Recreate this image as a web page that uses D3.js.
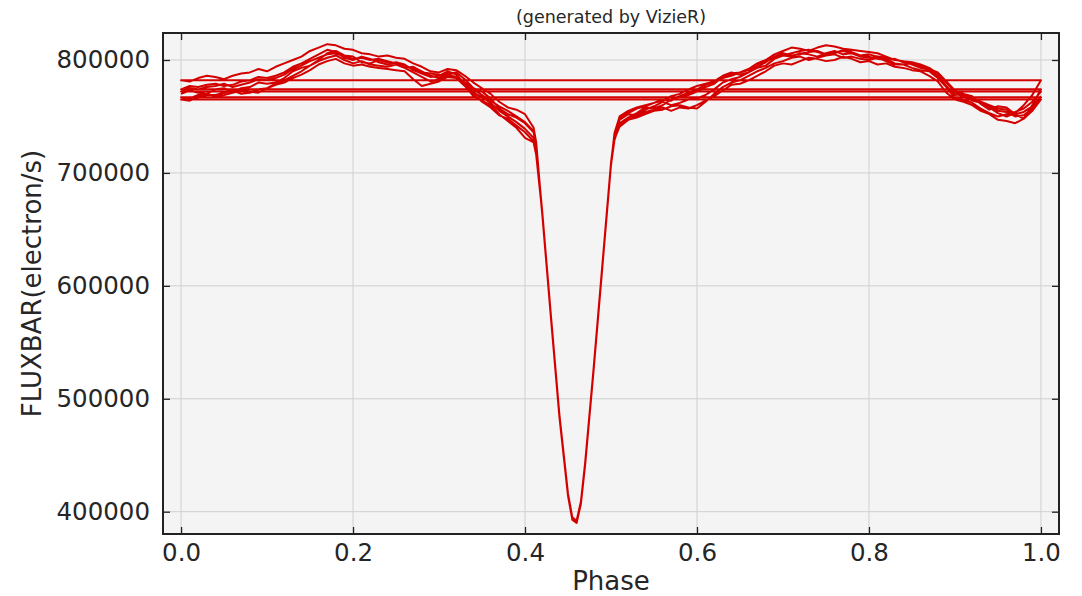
<!DOCTYPE html>
<html>
<head>
<meta charset="utf-8">
<script src="https://cdn.jsdelivr.net/npm/d3@7"></script>
<style>
    body { margin: 0; background: #fff; }
    svg text { font-family: "DejaVu Sans", sans-serif; fill: #262626; }
</style>
</head>
<body>
<svg id="chart" width="1082" height="596"></svg>
<script>
// phase grid shared by every cycle (denser through the eclipse)
const phases = [0, .01, .02, .03, .04, .05, .06, .07, .08, .09, .10, .11, .12, .13, .14, .15, .16, .17, .18, .19,
    .20, .21, .22, .23, .24, .25, .26, .27, .28, .29, .30, .31, .32, .33, .34, .35, .36, .37, .38, .39, .40,
    .41, .413, .42, .43, .44, .45, .455, .46, .465, .47, .48, .49, .50, .504, .51,
    .52, .53, .54, .55, .56, .57, .58, .59, .60, .61, .62, .63, .64, .65, .66, .67, .68, .69, .70, .71, .72, .73, .74, .75,
    .76, .77, .78, .79, .80, .81, .82, .83, .84, .85, .86, .87, .88, .89, .90, .91, .92, .93, .94, .95, .96, .97, .98, .99, 1.00];

// FLUXBAR in thousands of electron/s, one array per cycle, in time order
const cycle1 = [770, 773, 771, 770, 774, 775, 772, 775, 776, 780, 779, 780, 784, 790, 793, 795, 800, 806, 808, 804,
    803, 798, 797, 800, 798, 797, 793, 794, 790, 786, 784, 788, 789, 783, 775, 772, 766, 757, 752, 749, 744,
    736, 724, 666, 575, 485, 416, 394, 391, 408, 444, 528, 619, 709, 734, 747,
    752, 751, 756, 759, 763, 760, 762, 765, 766, 769, 774, 780, 783, 785, 789, 793, 795, 801, 804, 803, 806, 805, 803, 806,
    808, 805, 806, 803, 802, 803, 801, 797, 796, 797, 795, 790, 784, 776, 770, 768, 764, 762, 758, 753, 750, 753, 760, 769, 782];
const cycle2 = [782, 781, 784, 786, 785, 783, 786, 788, 789, 792, 790, 794, 797, 800, 803, 808, 811, 814, 813, 810,
    809, 806, 805, 803, 804, 802, 801, 797, 794, 790, 789, 792, 791, 786, 780, 775, 770, 763, 758, 756, 752,
    740, 727, 664, 573, 484, 414, 393, 390, 407, 442, 527, 617, 707, 729, 743,
    749, 753, 758, 757, 760, 765, 768, 769, 772, 776, 779, 785, 788, 789, 792, 797, 800, 805, 808, 811, 810, 808, 811, 813,
    812, 810, 809, 808, 807, 806, 803, 800, 799, 796, 793, 792, 789, 781, 773, 770, 767, 763, 760, 757, 756, 752, 754, 759, 767];
const cycle3 = [767, 766, 769, 770, 768, 769, 771, 773, 772, 771, 775, 778, 780, 784, 787, 791, 796, 799, 801, 797,
    795, 796, 794, 793, 792, 791, 790, 783, 777, 779, 781, 785, 784, 777, 768, 764, 760, 752, 746, 740, 731,
    727, 716, 665, 574, 486, 416, 395, 392, 409, 443, 529, 618, 708, 731, 744,
    749, 750, 754, 756, 758, 755, 758, 757, 760, 764, 768, 773, 778, 779, 782, 786, 790, 795, 797, 796, 799, 802, 801, 799,
    800, 803, 801, 798, 799, 796, 797, 794, 793, 791, 790, 786, 781, 771, 765, 763, 760, 755, 752, 747, 746, 744, 748, 760, 774];
const cycle4 = [774, 777, 776, 778, 779, 777, 778, 781, 782, 785, 784, 786, 789, 794, 797, 801, 805, 809, 807, 802,
    800, 803, 801, 798, 796, 798, 796, 791, 788, 785, 786, 790, 787, 779, 771, 767, 762, 755, 750, 745, 739,
    731, 720, 664, 574, 485, 415, 394, 391, 408, 443, 528, 618, 708, 733, 748,
    753, 757, 759, 762, 765, 764, 768, 771, 774, 778, 781, 786, 789, 787, 789, 794, 798, 803, 806, 804, 805, 807, 808, 805,
    806, 809, 807, 804, 803, 801, 800, 801, 798, 797, 795, 791, 786, 777, 769, 770, 768, 761, 756, 759, 758, 752, 748, 755, 765];
const cycle5 = [765, 764, 767, 769, 769, 771, 773, 770, 771, 774, 775, 779, 782, 786, 790, 795, 799, 802, 804, 800,
    797, 799, 796, 795, 794, 796, 793, 789, 785, 781, 783, 787, 785, 778, 770, 763, 758, 751, 748, 742, 736,
    728, 718, 666, 575, 486, 416, 395, 392, 409, 444, 529, 619, 709, 730, 741,
    747, 749, 752, 755, 756, 759, 760, 758, 757, 763, 770, 776, 780, 782, 786, 790, 793, 797, 799, 802, 803, 800, 802, 804,
    805, 802, 803, 801, 800, 802, 799, 796, 796, 793, 791, 790, 787, 776, 766, 765, 762, 757, 753, 750, 752, 754, 757, 763, 772];
const cycle6 = [772, 775, 774, 776, 777, 779, 776, 778, 780, 783, 782, 784, 787, 792, 795, 799, 802, 805, 806, 803,
    801, 802, 800, 801, 799, 797, 795, 792, 789, 788, 787, 786, 784, 780, 774, 769, 764, 759, 755, 750, 745,
    737, 725, 665, 574, 485, 415, 394, 391, 408, 443, 528, 618, 708, 735, 750,
    755, 758, 760, 762, 764, 768, 770, 774, 777, 779, 781, 784, 786, 789, 791, 796, 799, 802, 804, 806, 808, 809, 807, 805,
    807, 808, 806, 804, 805, 803, 802, 800, 799, 798, 796, 793, 788, 780, 772, 769, 766, 762, 759, 755, 754, 750, 751, 757, 768];

const xTicks = [0, 0.2, 0.4, 0.6, 0.8, 1.0];
const yTicks = [400000, 500000, 600000, 700000, 800000];

const svg = d3.select("#chart");
const plotLeft = 163, plotRight = 1059, plotTop = 33, plotBottom = 534;

const x = d3.scaleLinear().domain([-0.021, 1.021]).range([plotLeft, plotRight]);
const y = d3.scaleLinear().domain([380250, 823900]).range([plotBottom, plotTop]);

// one continuous series, so the jump from phase 1 back to 0 draws a line across
const points = [];
[cycle1, cycle2, cycle3, cycle4, cycle5, cycle6].forEach(function (c) {
    c.forEach(function (v, i) {
        points.push([phases[i], v * 1000]);
    });
});

svg.append("rect")
    .attr("x", plotLeft).attr("y", plotTop)
    .attr("width", plotRight - plotLeft).attr("height", plotBottom - plotTop)
    .attr("fill", "#f4f4f4");

// grid
svg.append("g").selectAll("line").data(xTicks).join("line")
    .attr("x1", d => x(d)).attr("x2", d => x(d))
    .attr("y1", plotTop).attr("y2", plotBottom)
    .attr("stroke", "#cfcfcf").attr("stroke-width", 1);
svg.append("g").selectAll("line").data(yTicks).join("line")
    .attr("y1", d => y(d)).attr("y2", d => y(d))
    .attr("x1", plotLeft).attr("x2", plotRight)
    .attr("stroke", "#cfcfcf").attr("stroke-width", 1);

svg.append("path")
    .datum(points)
    .attr("fill", "none")
    .attr("stroke", "#d40000")
    .attr("stroke-width", 2)
    .attr("stroke-linejoin", "round")
    .attr("d", d3.line().x(d => x(d[0])).y(d => y(d[1])));

// inward ticks on all four sides
const tickLen = 7;
svg.append("g").attr("transform", `translate(0,${plotBottom})`)
    .call(d3.axisBottom(x).tickValues(xTicks).tickSize(-tickLen).tickPadding(10).tickFormat(d3.format(".1f")));
svg.append("g").attr("transform", `translate(0,${plotTop})`)
    .call(d3.axisTop(x).tickValues(xTicks).tickSize(-tickLen).tickFormat(""));
svg.append("g").attr("transform", `translate(${plotLeft},0)`)
    .call(d3.axisLeft(y).tickValues(yTicks).tickSize(-tickLen).tickPadding(13).tickFormat(d3.format("d")));
svg.append("g").attr("transform", `translate(${plotRight},0)`)
    .call(d3.axisRight(y).tickValues(yTicks).tickSize(-tickLen).tickFormat(""));

svg.selectAll(".domain").remove();
svg.selectAll(".tick line").attr("stroke", "#222").attr("stroke-width", 1.3);
svg.selectAll(".tick text")
    .attr("font-family", "DejaVu Sans")
    .attr("font-size", 24.5)
    .attr("fill", "#262626");

svg.append("rect")
    .attr("x", plotLeft).attr("y", plotTop)
    .attr("width", plotRight - plotLeft).attr("height", plotBottom - plotTop)
    .attr("fill", "none")
    .attr("stroke", "#222")
    .attr("stroke-width", 2);

svg.append("text")
    .attr("x", (plotLeft + plotRight) / 2).attr("y", 590)
    .attr("text-anchor", "middle")
    .attr("font-size", 26)
    .text("Phase");

svg.append("text")
    .attr("transform", `translate(41,${(plotTop + plotBottom) / 2}) rotate(-90)`)
    .attr("text-anchor", "middle")
    .attr("font-size", 26)
    .text("FLUXBAR(electron/s)");

svg.append("text")
    .attr("x", (plotLeft + plotRight) / 2).attr("y", 23)
    .attr("text-anchor", "middle")
    .attr("font-size", 17.5)
    .text("(generated by VizieR)");
</script>
</body>
</html>
